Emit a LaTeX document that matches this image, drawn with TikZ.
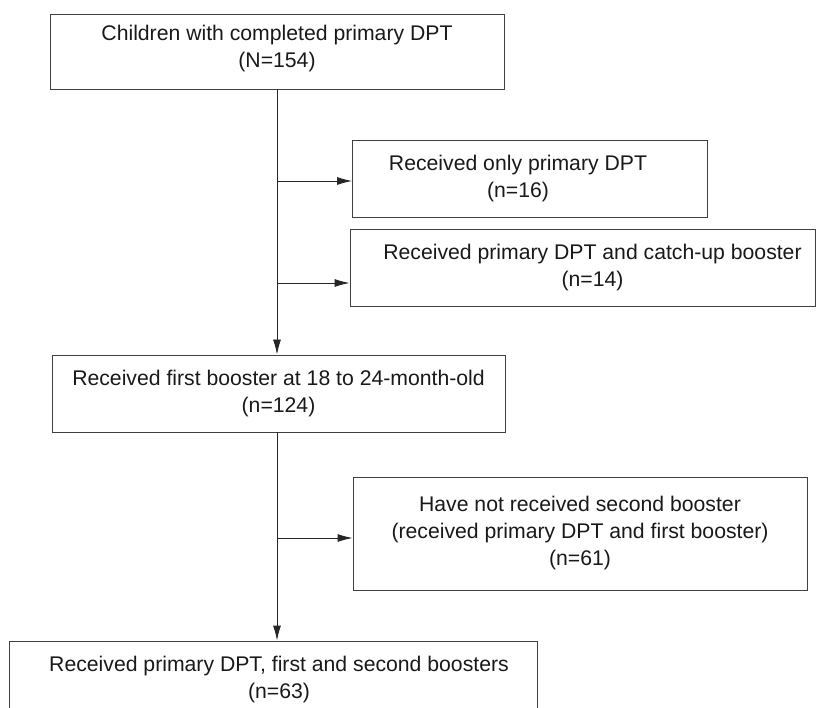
\documentclass[tikz,border=0pt]{standalone}
\usepackage{fontspec}
\setmainfont{Liberation Sans}
\usetikzlibrary{arrows.meta}
\begin{document}
\begin{tikzpicture}[x=1pt,y=-1pt,
  box/.style={draw=black!75, line width=0.9pt, inner sep=0pt},
  txt/.style={inner sep=0pt, align=center,
    font=\fontsize{21.2}{27}\selectfont, text=black!90},
  conn/.style={draw=black!85, line width=0.9pt},
  arr/.style={conn, -{Latex[length=15pt,width=8pt]}}]
\useasboundingbox (0,0) rectangle (816,708);
\clip (0,0) rectangle (816,708);
% boxes
\node[box, minimum width=454pt, minimum height=75pt] (b1) at (277,51.5) {};
\node[box, minimum width=355pt, minimum height=77pt] (b2) at (530,178.5) {};
\node[box, minimum width=465pt, minimum height=77pt] (b3) at (582.5,267.5) {};
\node[box, minimum width=453pt, minimum height=77pt] (b4) at (278.5,393.5) {};
\node[box, minimum width=454pt, minimum height=113pt] (b5) at (580,533.5) {};
\node[box, minimum width=528pt, minimum height=78pt] (b6) at (273,680) {};
% texts
\node[txt] (t1) at ([yshift=3pt]b1.center) {Children with completed primary DPT\\(N=154)};
\node[txt] (t2) at ([xshift=-12pt]b2.center) {Received only primary DPT\\(n=16)};
\node[txt] (t3) at ([xshift=10pt]b3.center) {Received primary DPT and catch-up booster\\(n=14)};
\node[txt] (t4) at (b4.center) {Received first booster at 18 to 24-month-old\\(n=124)};
\node[txt] (t5) at (b5.center) {Have not received second booster\\(received primary DPT and first booster)\\(n=61)};
\node[txt] (t6) at ([xshift=6pt]b6.center) {Received primary DPT, first and second boosters\\(n=63)};
% connectors
\coordinate (top) at (277,89);
\coordinate (j2) at (277,181);
\coordinate (j3) at (277,283);
\coordinate (mid) at (277,432);
\coordinate (j5) at (277,538);
\draw[arr] (top) -- (top |- b4.north);
\draw[arr] (j2) -- (j2 -| b2.west);
\draw[arr] (j3) -- (j3 -| b3.west);
\draw[arr] (mid) -- (mid |- b6.north);
\draw[arr] (j5) -- (j5 -| b5.west);
\end{tikzpicture}
\end{document}
